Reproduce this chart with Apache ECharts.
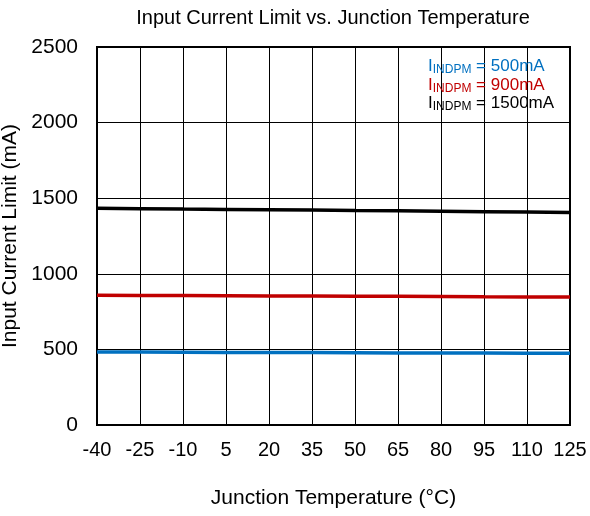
<!DOCTYPE html>
<html>
<head>
<meta charset="utf-8">
<script src="https://cdn.jsdelivr.net/npm/echarts@6/dist/echarts.min.js"></script>
<style>
  html, body { margin: 0; padding: 0; background: #fff; }
  #chart { width: 590px; height: 516px; }
</style>
</head>
<body>
<div id="chart"></div>
<script>
// 横轴 结温 (°C)
const temps = ['-40', '-25', '-10', '5', '20', '35', '50', '65', '80', '95', '110', '125'];

// 各 IINDPM 设置下的输入电流限值 (mA)
const limit500 = [483, 482, 481, 480, 480, 479, 478, 477, 477, 476, 475, 474];
const limit900 = [858, 857, 856, 855, 854, 853, 852, 851, 850, 848, 847, 846];
const limit1500 = [1433, 1431, 1428, 1426, 1424, 1422, 1419, 1417, 1414, 1411, 1408, 1405];

const seriesNames = ['500mA', '900mA', '1500mA'];
const seriesColors = ['#0070c0', '#c00000', '#000000'];

const font = 'Liberation Sans, Arial, sans-serif';

let chart = echarts.init(document.getElementById('chart'));

chart.setOption({
  animation: false,
  backgroundColor: '#fff',
  title: {
    text: 'Input Current Limit vs. Junction Temperature',
    left: 333,
    textAlign: 'center',
    top: 8,
    padding: 0,
    textStyle: {
      fontFamily: font,
      fontSize: 20,
      fontWeight: 'normal',
      color: '#000'
    }
  },
  legend: {
    orient: 'vertical',
    left: 423,
    top: 58,
    padding: 0,
    icon: 'none',
    itemWidth: 0,
    itemHeight: 1,
    itemGap: 0.5,
    data: seriesNames.map(function (n, i) {
      return { name: n, textStyle: { color: seriesColors[i] } };
    }),
    formatter: function (name) {
      return '{m|I}{s|INDPM}{m|\u00a0= ' + name + '}';
    },
    textStyle: {
      fontFamily: font,
      fontSize: 17,
      rich: {
        m: { fontFamily: font, fontSize: 17, lineHeight: 19 },
        s: { fontFamily: font, fontSize: 12, lineHeight: 10, verticalAlign: 'bottom' }
      }
    }
  },
  grid: {
    left: 97,
    right: 20,
    top: 47,
    bottom: 91,
    show: true,
    borderColor: '#000',
    borderWidth: 2,
    containLabel: false,
    outerBoundsMode: 'none'
  },
  xAxis: {
    type: 'category',
    data: temps,
    boundaryGap: false,
    name: 'Junction Temperature (°C)',
    nameLocation: 'middle',
    nameGap: 63,
    nameTextStyle: { fontFamily: font, fontSize: 21, color: '#000' },
    axisLine: { lineStyle: { color: '#000', width: 2 } },
    axisTick: { show: false },
    axisLabel: { interval: 0, hideOverlap: false, fontFamily: font, fontSize: 20, color: '#000', margin: 15 },
    splitLine: { show: true, interval: 0, lineStyle: { color: '#000', width: 1 } }
  },
  yAxis: {
    type: 'value',
    min: 0,
    max: 2500,
    interval: 500,
    name: 'Input Current Limit (mA)',
    nameLocation: 'middle',
    nameGap: 75,
    nameTextStyle: { fontFamily: font, fontSize: 21, color: '#000' },
    axisLine: { show: true, lineStyle: { color: '#000', width: 2 } },
    axisTick: { show: false },
    axisLabel: {
      fontFamily: font,
      fontSize: 21,
      color: '#000',
      margin: 19,
      formatter: function (v) { return String(v); }
    },
    splitLine: { show: true, lineStyle: { color: '#000', width: 1 } }
  },
  series: [
    {
      name: seriesNames[0],
      type: 'line',
      data: limit500,
      showSymbol: false,
      color: seriesColors[0],
      lineStyle: { width: 3.5, color: seriesColors[0] }
    },
    {
      name: seriesNames[1],
      type: 'line',
      data: limit900,
      showSymbol: false,
      color: seriesColors[1],
      lineStyle: { width: 3.5, color: seriesColors[1] }
    },
    {
      name: seriesNames[2],
      type: 'line',
      data: limit1500,
      showSymbol: false,
      color: seriesColors[2],
      lineStyle: { width: 3.5, color: seriesColors[2] }
    }
  ]
});
</script>
</body>
</html>
